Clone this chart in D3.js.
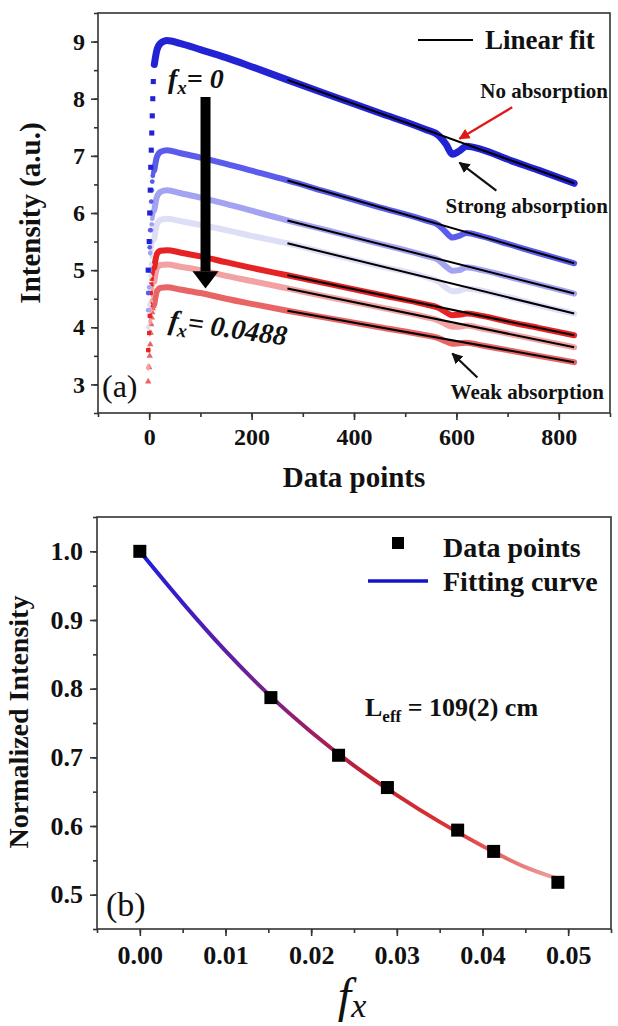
<!DOCTYPE html>
<html>
<head>
<meta charset="utf-8">
<script src="https://cdnjs.cloudflare.com/ajax/libs/d3/7.8.5/d3.min.js"></script>
<style>
  body { margin: 0; background: #fff; }
  svg text { font-family: "Liberation Serif", "Times New Roman", serif; fill: #111; }
</style>
</head>
<body>
<div id="chart"></div>
<script>
// ---------------- data: panel (a) ----------------
var mainX = [10, 15, 22, 35, 60, 100, 150, 200, 270, 350, 450, 540, 565, 580, 592, 605, 620, 650, 700, 760, 830];
var curveVals = [
  [8.60, 8.85, 8.97, 9.02, 8.97, 8.86, 8.72, 8.56, 8.33, 8.07, 7.75, 7.46, 7.36, 7.20, 7.03, 7.08, 7.17, 7.11, 6.94, 6.75, 6.52],
  [6.75, 6.98, 7.07, 7.10, 7.05, 6.97, 6.86, 6.74, 6.57, 6.36, 6.10, 5.87, 5.79, 5.66, 5.57, 5.60, 5.65, 5.59, 5.46, 5.30, 5.12],
  [6.05, 6.28, 6.37, 6.40, 6.35, 6.27, 6.16, 6.04, 5.87, 5.69, 5.46, 5.25, 5.18, 5.06, 4.99, 5.00, 5.05, 5.00, 4.89, 4.75, 4.59],
  [5.55, 5.80, 5.88, 5.90, 5.86, 5.79, 5.70, 5.60, 5.47, 5.29, 5.07, 4.88, 4.80, 4.69, 4.63, 4.64, 4.68, 4.64, 4.53, 4.39, 4.24],
  [5.05, 5.28, 5.34, 5.35, 5.31, 5.24, 5.14, 5.04, 4.91, 4.76, 4.57, 4.40, 4.34, 4.26, 4.21, 4.22, 4.24, 4.20, 4.10, 3.99, 3.86],
  [4.80, 5.03, 5.09, 5.10, 5.06, 5.00, 4.90, 4.81, 4.68, 4.53, 4.35, 4.18, 4.12, 4.05, 4.01, 4.01, 4.03, 3.98, 3.89, 3.78, 3.65],
  [4.40, 4.63, 4.69, 4.70, 4.66, 4.60, 4.50, 4.41, 4.29, 4.16, 4.00, 3.86, 3.81, 3.75, 3.71, 3.72, 3.73, 3.68, 3.60, 3.50, 3.39]
];
var riseX = [-2, 0, 1, 2, 3, 4, 5, 6, 7, 8];
var riseVals = [
  [5.0, 5.5, 6.0, 6.4, 6.8, 7.1, 7.4, 7.7, 8.0, 8.3],
  [4.6, 5.0, 5.4, 5.7, 6.0, 6.2, 6.4, 6.55, 6.65, 6.7],
  [4.3, 4.7, 5.0, 5.3, 5.5, 5.7, 5.8, 5.9, 5.95, 6.0],
  [4.0, 4.4, 4.7, 4.9, 5.1, 5.25, 5.35, 5.42, 5.48, 5.52],
  [3.6, 3.9, 4.2, 4.4, 4.6, 4.75, 4.85, 4.93, 4.98, 5.02],
  [3.3, 3.6, 3.9, 4.1, 4.3, 4.45, 4.58, 4.67, 4.73, 4.77],
  [3.05, 3.3, 3.5, 3.7, 3.9, 4.05, 4.17, 4.26, 4.33, 4.37]
];
var fitX = [270, 830];
var fitVals = [[8.33, 6.52], [6.57, 5.12], [5.87, 4.59], [5.47, 4.24], [4.91, 3.86], [4.68, 3.65], [4.29, 3.39]];
var curveColors = ["#2323d6", "#5c5cec", "#a3a3f2", "#dedef6", "#e62222", "#f2a2a2", "#e96464"];
var xTicksA = [0, 200, 400, 600, 800];
var yTicksA = [3, 4, 5, 6, 7, 8, 9];

// ---------------- data: panel (b) ----------------
var fx = [0.0, 0.0153, 0.0232, 0.0289, 0.0371, 0.0413, 0.0488];
var normI = [1.0, 0.787, 0.703, 0.656, 0.594, 0.563, 0.518];
var fitFx = [0, 0.005, 0.010, 0.015, 0.020, 0.025, 0.030, 0.035, 0.040, 0.045, 0.0488];
var fitI = [1.0, 0.925, 0.855, 0.792, 0.737, 0.688, 0.645, 0.606, 0.571, 0.540, 0.523];
var xTicksB = [0, 0.01, 0.02, 0.03, 0.04, 0.05];
var yTicksB = [0.5, 0.6, 0.7, 0.8, 0.9, 1.0];

var W = 618, H = 1026;
var svg = d3.select("#chart").append("svg").attr("width", W).attr("height", H);

var defs = svg.append("defs");
["black", "red"].forEach(function(c) {
  defs.append("marker").attr("id", "head-" + c)
    .attr("viewBox", "0 0 10 10").attr("refX", 9).attr("refY", 5)
    .attr("markerWidth", 5).attr("markerHeight", 5).attr("orient", "auto")
    .append("path").attr("d", "M0,0 L10,5 L0,10 z").attr("fill", c === "red" ? "#e01818" : "#111");
});

function drawAxes(g, x, y, xt, yt, xMinor, yMinor, fmtX, fmtY, fs, padX, padY) {
  var x0 = x.range()[0], x1 = x.range()[1], y0 = y.range()[0], y1 = y.range()[1];
  g.append("g").attr("transform", "translate(0," + y0 + ")")
    .call(d3.axisBottom(x).tickValues(xMinor).tickSize(4).tickFormat("").tickSizeOuter(0));
  g.append("g").attr("transform", "translate(" + x0 + ",0)")
    .call(d3.axisLeft(y).tickValues(yMinor).tickSize(4).tickFormat("").tickSizeOuter(0));
  g.append("g").attr("class", "ax").attr("transform", "translate(0," + y0 + ")")
    .call(d3.axisBottom(x).tickValues(xt).tickSize(7).tickPadding(padX).tickFormat(fmtX).tickSizeOuter(0));
  g.append("g").attr("class", "ax").attr("transform", "translate(" + x0 + ",0)")
    .call(d3.axisLeft(y).tickValues(yt).tickSize(7).tickPadding(padY).tickFormat(fmtY).tickSizeOuter(0));
  g.selectAll(".tick line").attr("stroke", "#333").attr("stroke-width", 1.6);
  g.selectAll(".domain").remove();
  g.selectAll(".ax text").attr("font-size", fs).attr("font-weight", "bold")
    .attr("font-family", "'Liberation Serif', serif").attr("fill", "#111");
  g.append("rect").attr("x", x0).attr("y", y1).attr("width", x1 - x0).attr("height", y0 - y1)
    .attr("fill", "none").attr("stroke", "#333").attr("stroke-width", 1.6);
}

// ================= panel (a) =================
var xA = d3.scaleLinear().domain([-100, 900]).range([98, 610]);
var yA = d3.scaleLinear().domain([2.5, 9.5]).range([413, 13]);
var gA = svg.append("g");

var lineA = d3.line().x(function(d) { return xA(d[0]); }).y(function(d) { return yA(d[1]); }).curve(d3.curveMonotoneX);
var symbols = [d3.symbolSquare, d3.symbolCircle, d3.symbolCircle, d3.symbolDiamond, d3.symbolSquare, d3.symbolDiamond, d3.symbolTriangle];

for (var c = curveVals.length - 1; c >= 0; c--) {
  var pts = mainX.map(function(xv, i) { return [xv, curveVals[c][i]]; });
  gA.append("path").attr("d", lineA(pts)).attr("fill", "none")
    .attr("stroke", curveColors[c]).attr("stroke-width", c === 0 ? 7 : 6).attr("stroke-linecap", "round");
  var rp = riseX.map(function(xv, i) { return [xv, riseVals[c][i]]; });
  gA.selectAll(".rise" + c).data(rp).enter().append("path")
    .attr("transform", function(d) { return "translate(" + xA(d[0]) + "," + yA(d[1]) + ")"; })
    .attr("d", d3.symbol().type(symbols[c]).size(c === 0 ? 26 : 18))
    .attr("fill", curveColors[c]);
}
fitVals.forEach(function(fv) {
  gA.append("line").attr("x1", xA(fitX[0])).attr("y1", yA(fv[0]))
    .attr("x2", xA(fitX[1])).attr("y2", yA(fv[1]))
    .attr("stroke", "#000").attr("stroke-width", 2);
});

drawAxes(gA, xA, yA, xTicksA, yTicksA, d3.range(-100, 901, 100), d3.range(2.5, 9.6, 0.5),
  d3.format("d"), d3.format("d"), 24, 8, 6);

// axis titles
gA.append("text").attr("x", 354).attr("y", 487).attr("text-anchor", "middle")
  .attr("font-size", 29).attr("font-weight", "bold").text("Data points");
gA.append("text").attr("transform", "translate(40,213) rotate(-90)").attr("text-anchor", "middle")
  .attr("font-size", 29).attr("font-weight", "bold").text("Intensity (a.u.)");

// legend
gA.append("line").attr("x1", 418).attr("x2", 473).attr("y1", 40).attr("y2", 40).attr("stroke", "#000").attr("stroke-width", 2);
gA.append("text").attr("x", 485).attr("y", 49).attr("font-size", 27).attr("font-weight", "bold").text("Linear fit");

// big arrow
var arrowX = 110, arrowTop = 8.03, arrowTip = 4.68, headBase = 4.98;
var ax = xA(arrowX);
gA.append("rect").attr("x", ax - 5).attr("y", yA(arrowTop)).attr("width", 10).attr("height", yA(headBase) - yA(arrowTop)).attr("fill", "#000");
gA.append("path").attr("d", "M" + (ax - 13) + "," + yA(headBase) + " L" + (ax + 13) + "," + yA(headBase) + " L" + ax + "," + yA(arrowTip) + " z").attr("fill", "#000");

// annotations
var t0 = gA.append("text").attr("x", 168).attr("y", 88).attr("font-size", 28).attr("font-weight", "bold").attr("font-style", "italic");
t0.append("tspan").text("f");
t0.append("tspan").attr("dy", 6).attr("font-size", 19).text("x");
t0.append("tspan").attr("dy", -6).text("= 0");
var t1 = gA.append("text").attr("transform", "translate(168,329) rotate(8)").attr("font-size", 28).attr("font-weight", "bold").attr("font-style", "italic");
t1.append("tspan").text("f");
t1.append("tspan").attr("dy", 6).attr("font-size", 19).text("x");
t1.append("tspan").attr("dy", -6).text("= 0.0488");

gA.append("text").attr("x", 102).attr("y", 397).attr("font-size", 32).text("(a)");

gA.append("text").attr("x", 608).attr("y", 98).attr("text-anchor", "end").attr("font-size", 21).attr("font-weight", "bold").text("No absorption");
gA.append("text").attr("x", 608).attr("y", 213).attr("text-anchor", "end").attr("font-size", 21).attr("font-weight", "bold").text("Strong absorption");
gA.append("text").attr("x", 604).attr("y", 399).attr("text-anchor", "end").attr("font-size", 21).attr("font-weight", "bold").text("Weak absorption");

var arrows = [
  {x1: 709, y1: 7.85, x2: 606, y2: 7.30, c: "red"},
  {x1: 678, y1: 6.39, x2: 606, y2: 6.88, c: "black"},
  {x1: 641, y1: 3.12, x2: 592, y2: 3.54, c: "black"}
];
arrows.forEach(function(a) {
  gA.append("line").attr("x1", xA(a.x1)).attr("y1", yA(a.y1)).attr("x2", xA(a.x2)).attr("y2", yA(a.y2))
    .attr("stroke", a.c === "red" ? "#e01818" : "#111").attr("stroke-width", 2.2)
    .attr("marker-end", "url(#head-" + a.c + ")");
});

// ================= panel (b) =================
var xB = d3.scaleLinear().domain([-0.005, 0.055]).range([97, 611]);
var yB = d3.scaleLinear().domain([0.45, 1.05]).range([929, 517]);
var gB = svg.append("g");

var grad = defs.append("linearGradient").attr("id", "fitgrad").attr("gradientUnits", "userSpaceOnUse")
  .attr("x1", xB(0)).attr("x2", xB(0.0488)).attr("y1", 0).attr("y2", 0);
[[0, "#1c1ce0"], [0.3, "#7a1f8c"], [0.55, "#c42030"], [0.75, "#dd3434"], [1, "#f0a4a4"]].forEach(function(s) {
  grad.append("stop").attr("offset", s[0]).attr("stop-color", s[1]);
});

var lineB = d3.line().x(function(d) { return xB(d[0]); }).y(function(d) { return yB(d[1]); }).curve(d3.curveMonotoneX);
gB.append("path").attr("d", lineB(fitFx.map(function(v, i) { return [v, fitI[i]]; })))
  .attr("fill", "none").attr("stroke", "url(#fitgrad)").attr("stroke-width", 4);

gB.selectAll(".pt").data(fx.map(function(v, i) { return [v, normI[i]]; })).enter().append("rect")
  .attr("x", function(d) { return xB(d[0]) - 6.5; }).attr("y", function(d) { return yB(d[1]) - 6.5; })
  .attr("width", 13).attr("height", 13).attr("fill", "#000");

drawAxes(gB, xB, yB, xTicksB, yTicksB, d3.range(-0.005, 0.0551, 0.005), d3.range(0.45, 1.051, 0.05),
  d3.format(".2f"), d3.format(".1f"), 26, 10, 7);

// titles
var tx = gB.append("text").attr("x", 352).attr("y", 1012).attr("text-anchor", "middle").attr("font-style", "italic").attr("font-size", 48);
tx.append("tspan").text("f");
tx.append("tspan").attr("dy", 5).attr("font-size", 34).text("x");
gB.append("text").attr("transform", "translate(28,722) rotate(-90)").attr("text-anchor", "middle")
  .attr("font-size", 28).attr("font-weight", "bold").text("Normalized Intensity");

// legend
gB.append("rect").attr("x", 392).attr("y", 537).attr("width", 12).attr("height", 12).attr("fill", "#000");
gB.append("text").attr("x", 443).attr("y", 557).attr("font-size", 28).attr("font-weight", "bold").text("Data points");
gB.append("line").attr("x1", 368).attr("x2", 428).attr("y1", 581).attr("y2", 581).attr("stroke", "#1515c8").attr("stroke-width", 3.5);
gB.append("text").attr("x", 443).attr("y", 591).attr("font-size", 28).attr("font-weight", "bold").text("Fitting curve");

var tl = gB.append("text").attr("x", 365).attr("y", 716).attr("font-size", 26).attr("font-weight", "bold");
tl.append("tspan").text("L");
tl.append("tspan").attr("dy", 6).attr("font-size", 17).text("eff");
tl.append("tspan").attr("dy", -6).text(" = 109(2) cm");

gB.append("text").attr("x", 106).attr("y", 916).attr("font-size", 34).text("(b)");
</script>
</body>
</html>
